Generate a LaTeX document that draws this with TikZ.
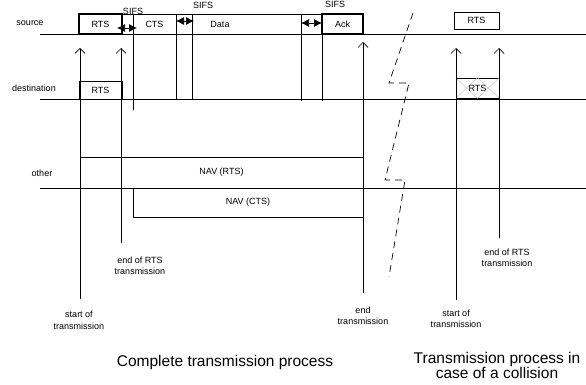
\documentclass[tikz,border=0pt]{standalone}
\usepackage{fontspec}
\setmainfont{Liberation Sans}
\usetikzlibrary{arrows.meta}
\begin{document}
\begin{tikzpicture}[x=1pt,y=-1pt,line width=0.7pt,
  lbl/.style={font=\fontsize{9}{11.5}\selectfont,align=center,inner sep=0pt},
  captxt/.style={font=\fontsize{15.5}{15.5}\selectfont,align=center,inner sep=0pt},
  box/.style={draw,inner sep=0pt,font=\fontsize{9}{11}\selectfont},
  thickbox/.style={box,line width=1.3pt},
  upar/.style={-{Straight Barb[length=5pt,width=10pt,line width=0.7pt]}},
  sifsar/.style={{Latex[length=8pt,width=8pt]}-{Latex[length=8pt,width=8pt]}},
  brk/.style={dash pattern=on 7pt off 5pt}]
\useasboundingbox (0,0) rectangle (586,385);

% time lines
\coordinate (sL) at (40,34);  \coordinate (sR) at (586,34);
\coordinate (dL) at (40,99);  \coordinate (dR) at (586,99);
\coordinate (oL) at (40,188); \coordinate (oR) at (586,188);
\draw (sL) -- (sR);
\draw (dL) -- (dR);
\draw (oL) -- (oR);
\node[lbl] (lsrc) at (30,23) {source};
\node[lbl] (ldst) at (34,88) {destination};
\node[lbl] (loth) at (42,173) {other};

% source frame
\node[box,minimum width=284pt,minimum height=20pt] (frame) at (221,24) {};
\node[lbl] (data) at (220,24) {Data};
\node[thickbox,minimum width=43pt,minimum height=20pt] (rts1) at (100.5,24) {RTS};
\node[box,minimum width=43pt,minimum height=20pt] (cts) at (154.5,24) {CTS};
\node[thickbox,minimum width=41pt,minimum height=20pt] (ack) at (342.5,24) {Ack};

% destination RTS
\node[box,minimum width=43pt,minimum height=18pt] (rts2) at (100.5,90) {RTS};

% NAV boxes
\node[box,minimum width=283pt,minimum height=31pt] (navr) at (221.5,172.5) {NAV (RTS)};
\node[box,minimum width=230pt,minimum height=29pt] (navc) at (248,202.5) {NAV (CTS)};

% vertical separators
\coordinate (v1a) at (133,34);  \coordinate (v1b) at (133,110);
\coordinate (v2a) at (176,34);  \coordinate (v2b) at (176,99);
\coordinate (v3a) at (192,14);  \coordinate (v3b) at (192,99);
\coordinate (v4a) at (301,14);  \coordinate (v4b) at (301,101);
\coordinate (v5a) at (322,34);  \coordinate (v5b) at (322,101);
\draw (v1a) -- (v1b);
\draw (v2a) -- (v2b);
\draw (v3a) -- (v3b);
\draw (v4a) -- (v4b);
\draw (v5a) -- (v5b);

% SIFS
\coordinate (s1a) at (117,28); \coordinate (s1b) at (137,28);
\coordinate (s2a) at (176,21); \coordinate (s2b) at (194,21);
\coordinate (s3a) at (301,23); \coordinate (s3b) at (322,23);
\draw[sifsar] (s1a) -- (s1b);
\draw[sifsar] (s2a) -- (s2b);
\draw[sifsar] (s3a) -- (s3b);
\node[lbl] (sifs1) at (133,11) {SIFS};
\node[lbl] (sifs2) at (203,5) {SIFS};
\node[lbl] (sifs3) at (335,4) {SIFS};

% event arrows (left)
\coordinate (a1b) at (80,299);  \coordinate (a1t) at (80,48);
\coordinate (a2b) at (121,243); \coordinate (a2t) at (121,48);
\coordinate (a3b) at (363,293); \coordinate (a3t) at (363,42);
\draw[upar] (a1b) -- (a1t);
\draw[upar] (a2b) -- (a2t);
\draw[upar] (a3b) -- (a3t);
\node[lbl] (tstart) at (79,320.5) {start of\\transmission};
\node[lbl] (tendrts) at (140,266) {end of RTS\\transmission};
\node[lbl] (tend) at (363,316) {end\\transmission};

% break
\coordinate (b0) at (413,13);
\coordinate (b1) at (389,83);
\coordinate (b2) at (409,83);
\coordinate (b3) at (385,180);
\coordinate (b4) at (405,180);
\coordinate (b5) at (389,277);
\draw[brk] (b0) -- (b1) -- (b2) -- (b3) -- (b4) -- (b5);

% collision part
\node[box,minimum width=45pt,minimum height=17pt] (rts3) at (476.5,20.5) {RTS};
\node[box,minimum width=43pt,minimum height=20pt] (rts4) at (477.5,88) {};
\draw[gray!50,line width=0.4pt] (rts4.north west) -- (rts4.south) -- (rts4.north east)
  (rts4.south west) -- (rts4.north) -- (rts4.south east);
\node[box,draw=none] (rts4t) at (rts4) {RTS};
\coordinate (c1b) at (456,300); \coordinate (c1t) at (456,48);
\coordinate (c2b) at (499,238); \coordinate (c2t) at (499,48);
\draw[upar] (c1b) -- (c1t);
\draw[upar] (c2b) -- (c2t);
\node[lbl] (cstart) at (456,319) {start of\\transmission};
\node[lbl] (cendrts) at (507,258) {end of RTS\\transmission};

% captions
\node[captxt] (cap1) at (225,362) {Complete transmission process};
\node[captxt] (cap2) at (497,365.5) {Transmission process in\\case of a collision};
\end{tikzpicture}
\end{document}
